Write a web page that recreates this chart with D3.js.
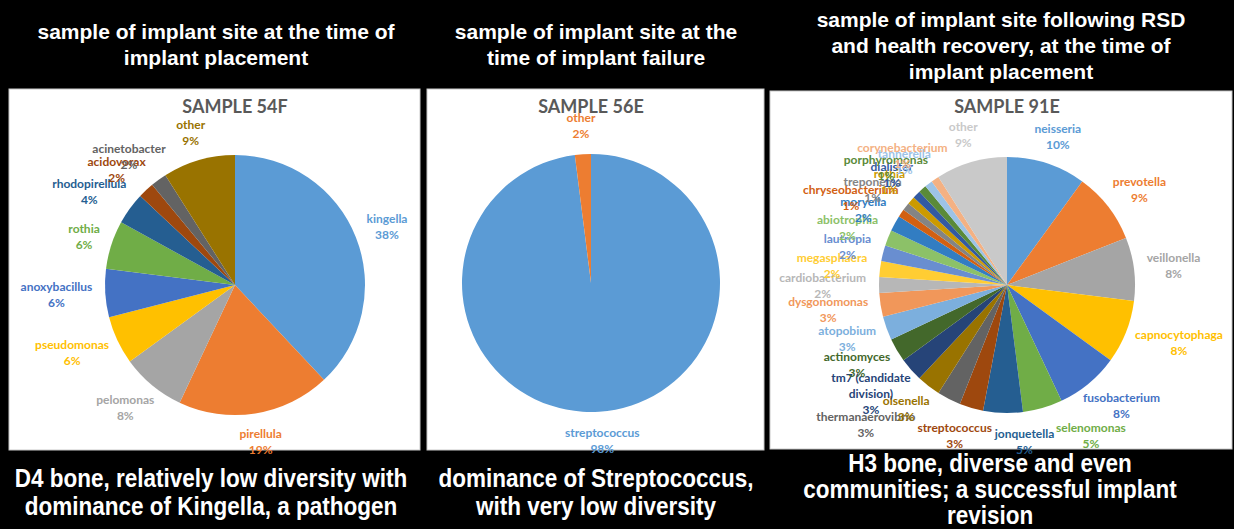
<!DOCTYPE html>
<html>
<head>
<meta charset="utf-8">
<script src="https://cdn.jsdelivr.net/npm/d3@7"></script>
<style>
  body { margin: 0; background: #000; }
  svg { display: block; }
  .head { font-family: "Liberation Sans", Arial, sans-serif; font-weight: bold; font-size: 21px; fill: #fff; }
  .foot { font-family: "Liberation Sans", Arial, sans-serif; font-weight: bold; font-size: 25px; fill: #fff; }
  .sample { font-family: Lato, "Open Sans", sans-serif; font-weight: bold; font-size: 18px; fill: #595959; }
  .label { font-family: Lato, "Open Sans", sans-serif; font-weight: bold; font-size: 12px; }
</style>
</head>
<body>
<div class="chart"></div>
<script>
// sample 54F - at implant placement
var names54 = ["kingella", "pirellula", "pelomonas", "pseudomonas", "anoxybacillus", "rothia", "rhodopirellula", "acidovorax", "acinetobacter", "other"];
var values54 = [38, 19, 8, 6, 6, 6, 4, 2, 2, 9];

// sample 56E - at implant failure
var names56 = ["streptococcus", "other"];
var values56 = [98, 2];

// sample 91E - after RSD and recovery
var names91 = ["neisseria", "prevotella", "veillonella", "capnocytophaga", "fusobacterium", "selenomonas", "jonquetella",
  "streptococcus", "thermanaerovibrio", "olsenella", "tm7 (candidate division)", "actinomyces", "atopobium", "dysgonomonas",
  "cardiobacterium", "megasphaera", "lautropia", "abiotrophia", "moryella", "chryseobacterium", "treponema", "rothia",
  "dialister", "porphyromonas", "tannerella", "corynebacterium", "other"];
var values91 = [10, 9, 8, 8, 8, 5, 5, 3, 3, 3, 3, 3, 3, 3, 2, 2, 2, 2, 2, 1, 1, 1, 1, 1, 1, 1, 9];

var sampleTitles = ["SAMPLE 54F", "SAMPLE 56E", "SAMPLE 91E"];
var headers = [
  ["sample of implant site at the time of", "implant placement"],
  ["sample of implant site at the", "time of implant failure"],
  ["sample of implant site following RSD", "and health recovery, at the time of", "implant placement"]
];
var footers = [
  ["D4 bone, relatively low diversity with", "dominance of Kingella, a pathogen"],
  ["dominance of Streptococcus,", "with very low diversity"],
  ["H3 bone, diverse and even", "communities; a successful implant", "revision"]
];

// excel default point colours, in order
var excelColors = ["#5b9bd5", "#ed7d31", "#a5a5a5", "#ffc000", "#4472c4", "#70ad47",
  "#255e91", "#9e480e", "#636363", "#997300", "#264478", "#43682b",
  "#7cafdd", "#f1975a", "#b7b7b7", "#ffcd33", "#698ed0", "#8cc168",
  "#327dc2", "#d26012", "#848484", "#cc9a00", "#335aa1", "#5a8a39",
  "#9dc3e6", "#f4b183", "#c9c9c9"];

var width = 1234, height = 529, labelGap = 13, labelLine = 16;

var panels = [
  {names: names54, values: values54, x: 9, y: 89, w: 411, h: 361, cx: 235, cy: 285, r: 130, tx: 216, hy: 39, fx: 211, fy: 487, fl: 28},
  {names: names56, values: values56, x: 427, y: 89, w: 337, h: 361, cx: 591, cy: 283, r: 129, tx: 596, hy: 39, fx: 596, fy: 487, fl: 28},
  {names: names91, values: values91, x: 770, y: 91, w: 462, h: 358, cx: 1007, cy: 285, r: 128, tx: 1001, hy: 27, fx: 990, fy: 472, fl: 26}
];

var svg = d3.select(".chart").append("svg")
  .attr("width", width)
  .attr("height", height);

svg.append("rect").attr("width", width).attr("height", height).attr("fill", "#000");

function wrapName(name) {
  if (name.length <= 15 || name.indexOf(" ") < 0) return [name];
  var words = name.split(" "), lines = [], cur = "";
  words.forEach(w => {
    if (cur && (cur + " " + w).length > 15) { lines.push(cur); cur = w; }
    else cur = cur ? cur + " " + w : w;
  });
  lines.push(cur);
  return lines;
}

panels.forEach((p, k) => {
  // header text
  svg.append("g").selectAll("text")
    .data(headers[k]).enter().append("text")
    .attr("class", "head")
    .attr("text-anchor", "middle")
    .attr("x", p.tx)
    .attr("y", (d, i) => p.hy + i * 26)
    .text(d => d);

  // footer text (condensed look)
  svg.append("g").selectAll("text")
    .data(footers[k]).enter().append("text")
    .attr("class", "foot")
    .attr("text-anchor", "middle")
    .attr("transform", (d, i) => `translate(${p.fx},${p.fy + i * p.fl}) scale(0.9,1)`)
    .text(d => d);

  // white chart area
  svg.append("rect")
    .attr("x", p.x).attr("y", p.y)
    .attr("width", p.w).attr("height", p.h)
    .attr("fill", "#fff")
    .attr("stroke", "#c8c8c8");

  svg.append("text")
    .attr("class", "sample")
    .attr("text-anchor", "middle")
    .attr("x", p.cx)
    .attr("y", 113)
    .text(sampleTitles[k]);

  var pie = d3.pie().sort(null).value(d => d.value);
  var arcs = pie(p.names.map((n, i) => ({name: n, value: p.values[i], color: excelColors[i]})));
  var arc = d3.arc().innerRadius(0).outerRadius(p.r);

  var pieG = svg.append("g").attr("transform", `translate(${p.cx},${p.cy})`);

  pieG.selectAll("path.slice")
    .data(arcs)
    .enter().append("path")
    .attr("class", "slice")
    .attr("d", arc)
    .attr("fill", d => d.data.color);

  // data labels, placed just outside the end of each slice
  var boxes = [];
  var labels = pieG.selectAll("text.label")
    .data(arcs)
    .enter().append("text")
    .attr("class", "label")
    .attr("text-anchor", "middle")
    .attr("fill", d => d.data.color)
    .each(function (d) {
      var t = d3.select(this);
      var lines = wrapName(d.data.name).concat([d.data.value + "%"]);
      lines.forEach((s, i) => t.append("tspan").attr("x", 0).attr("dy", i ? labelLine : 0).text(s));
      var bb = this.getBBox();
      var a = (d.startAngle + d.endAngle) / 2;
      var px = Math.sin(a) * (p.r + labelGap), py = -Math.cos(a) * (p.r + labelGap);
      var box = {a: a, w: bb.width, h: bb.height, ox: bb.x + bb.width / 2, oy: bb.y + bb.height / 2,
        cx: px + Math.sin(a) * bb.width / 2, cy: py - Math.cos(a) * bb.height / 2};
      d.box = box;
      boxes.push(box);
    });

  // spread the crowded labels under the pie sideways, like excel does
  var bottom = boxes.filter(b => b.a > Math.PI * 0.83 && b.a < Math.PI * 1.2);
  for (var it = 0; it < 20; it++) {
    for (var i = 0; i < bottom.length; i++) {
      for (var j = i + 1; j < bottom.length; j++) {
        var b1 = bottom[i], b2 = bottom[j];
        var needX = (b1.w + b2.w) / 2 + 2 - Math.abs(b1.cx - b2.cx);
        var needY = (b1.h + b2.h) / 2 - Math.abs(b1.cy - b2.cy);
        if (needX > 0 && needY > 0) {
          var s = b1.cx >= b2.cx ? 1 : -1;
          b1.cx += s * needX * 0.3;
          b2.cx -= s * needX * 0.3;
        }
      }
    }
  }

  labels.attr("transform", d => `translate(${d.box.cx - d.box.ox},${d.box.cy - d.box.oy})`);
});
</script>
</body>
</html>
